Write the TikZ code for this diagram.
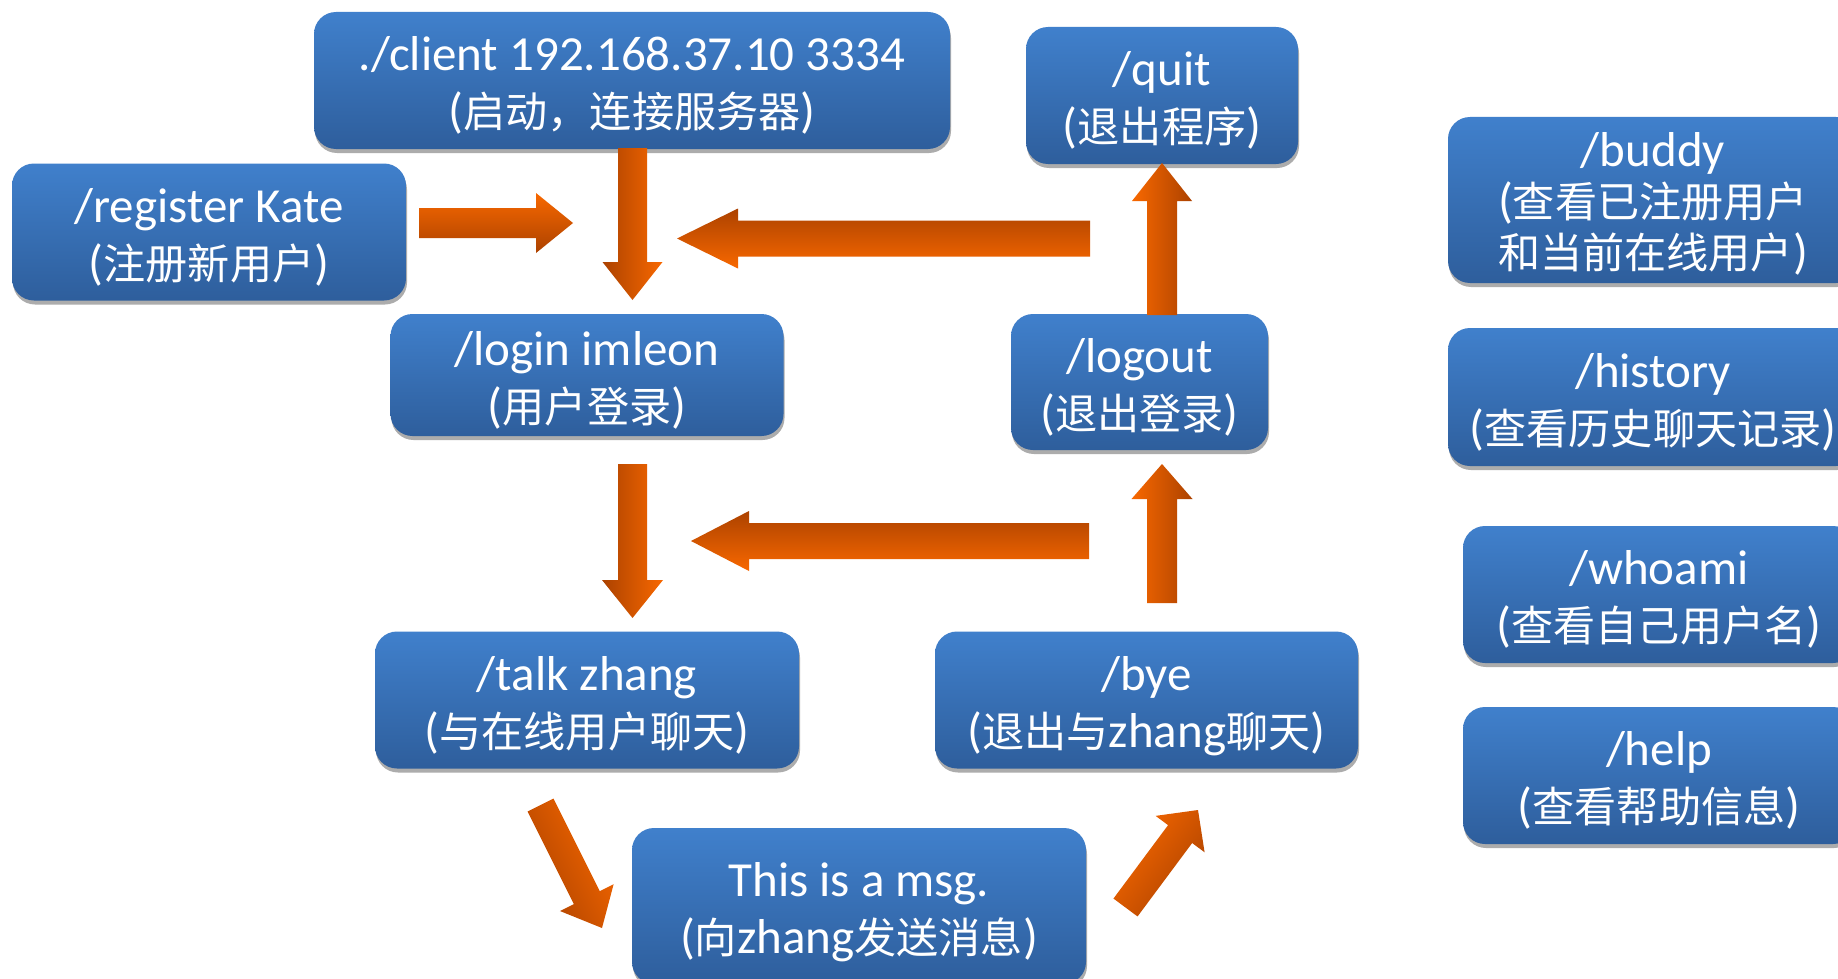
\documentclass[tikz,border=0pt]{standalone}
\usepackage{fontspec}
\setmainfont{Carlito}
\newfontfamily\cjkf[Scale=0.86]{Noto Sans CJK SC}
\newcommand\zh[1]{{\cjkf #1}}
\newcommand\bt[1]{\raisebox{-7.5pt}[\height][\depth]{\begin{tabular}{@{}c@{}}#1\end{tabular}}}
\usetikzlibrary{calc,shadows}
\definecolor{boxtop}{RGB}{64,128,204}
\definecolor{boxbot}{RGB}{46,94,156}
\definecolor{arbright}{RGB}{248,104,0}
\definecolor{ardark}{RGB}{172,66,0}
% #1 tail, #2 tip, #3 half shaft, #4 half head, #5 head length, #6 shading angle
\newcommand\blockarrow[6]{%
  \shade[top color=arbright, bottom color=ardark, shading angle=#6]
  ($(#1)!#3!90:(#2)$) -- ($(#2)!#5!(#1)!#3!-90:(#1)$) -- ($(#2)!#5!(#1)!#4!-90:(#1)$) -- (#2)
  -- ($(#2)!#5!(#1)!#4!90:(#1)$) -- ($(#2)!#5!(#1)!#3!90:(#1)$) -- ($(#1)!#3!-90:(#2)$) -- cycle;}
\begin{document}
\begin{tikzpicture}[x=1pt,y=-1pt,
  box/.style={rounded corners=22pt, top color=boxtop, bottom color=boxbot, text=white,
    inner sep=0pt, font=\fontsize{49}{57}\selectfont,
    general shadow={fill=gray!65, shadow xshift=1pt, shadow yshift=-4pt}}]
\useasboundingbox (0,0) rectangle (1838,979);
\clip (0,0) rectangle (1838,979);
\fill[white] (0,0) rectangle (1838,979);

\node[box, minimum width=636pt, minimum height=137pt] (client) at (632,80.5)
  {\bt{./client 192.168.37.10 3334\\(\zh{启动，连接服务器})}};
\node[box, minimum width=272pt, minimum height=137pt] (quit) at (1162,95.5)
  {\bt{/quit\\(\zh{退出程序})}};
\node[box, minimum width=394pt, minimum height=137pt] (register) at (209,232)
  {\bt{/register Kate\\(\zh{注册新用户})}};
\node[box, minimum width=410pt, minimum height=166pt, font=\fontsize{49}{51}\selectfont] (buddy) at (1653,200)
  {\bt{/buddy\\(\zh{查看已注册用户}\\\zh{和当前在线用户})}};
\node[box, minimum width=393pt, minimum height=122pt] (login) at (587,375)
  {\bt{/login imleon\\(\zh{用户登录})}};
\node[box, minimum width=257pt, minimum height=136pt] (logout) at (1139.5,382)
  {\bt{/logout\\(\zh{退出登录})}};
\node[box, minimum width=410pt, minimum height=138pt] (history) at (1653,397)
  {\bt{/history\\(\zh{查看历史聊天记录})}};
\node[box, minimum width=392pt, minimum height=137pt] (whoami) at (1659,594.5)
  {\bt{/whoami\\(\zh{查看自己用户名})}};
\node[box, minimum width=392pt, minimum height=137pt] (help) at (1659,775.5)
  {\bt{/help\\(\zh{查看帮助信息})}};
\node[box, minimum width=424pt, minimum height=137pt] (talk) at (587,700)
  {\bt{/talk zhang\\(\zh{与在线用户聊天})}};
\node[box, minimum width=423pt, minimum height=137pt] (bye) at (1146.5,700)
  {\bt{/bye\\(\zh{退出与}zhang\zh{聊天})}};
\node[box, minimum width=454pt, minimum height=156pt] (msg) at (859,906)
  {\bt{This is a msg.\\(\zh{向}zhang\zh{发送消息})}};

% arrow end points
\coordinate (a1s) at (632.5,148);  \coordinate (a1e) at (632.5,300);
\coordinate (a2s) at (419,223);    \coordinate (a2e) at (573,223);
\coordinate (a3s) at (1090,238.5); \coordinate (a3e) at (677,238.5);
\coordinate (a4s) at (1162,315);   \coordinate (a4e) at (1162,163);
\coordinate (a5s) at (632.5,464);  \coordinate (a5e) at (632.5,618);
\coordinate (a6s) at (1089,541);   \coordinate (a6e) at (691,541);
\coordinate (a7s) at (1162,603);   \coordinate (a7e) at (1162,464);
\coordinate (a8s) at (540.5,805);  \coordinate (a8e) at (602,928);
\coordinate (a9s) at (1125.5,907.5); \coordinate (a9e) at (1198,810);

\blockarrow{a1s}{a1e}{14.5pt}{30pt}{38pt}{-90}
\blockarrow{a2s}{a2e}{15pt}{30pt}{37pt}{0}
\blockarrow{a3s}{a3e}{18pt}{30pt}{61pt}{180}
\blockarrow{a4s}{a4e}{15pt}{30pt}{38pt}{90}
\blockarrow{a5s}{a5e}{14.5pt}{30.5pt}{38pt}{-90}
\blockarrow{a6s}{a6e}{18pt}{30pt}{58pt}{180}
\blockarrow{a7s}{a7e}{15pt}{30.5pt}{35pt}{90}
\blockarrow{a8s}{a8e}{14.5pt}{30pt}{34pt}{-63.4}
\blockarrow{a9s}{a9e}{15pt}{30.5pt}{30pt}{53.4}
\end{tikzpicture}
\end{document}
